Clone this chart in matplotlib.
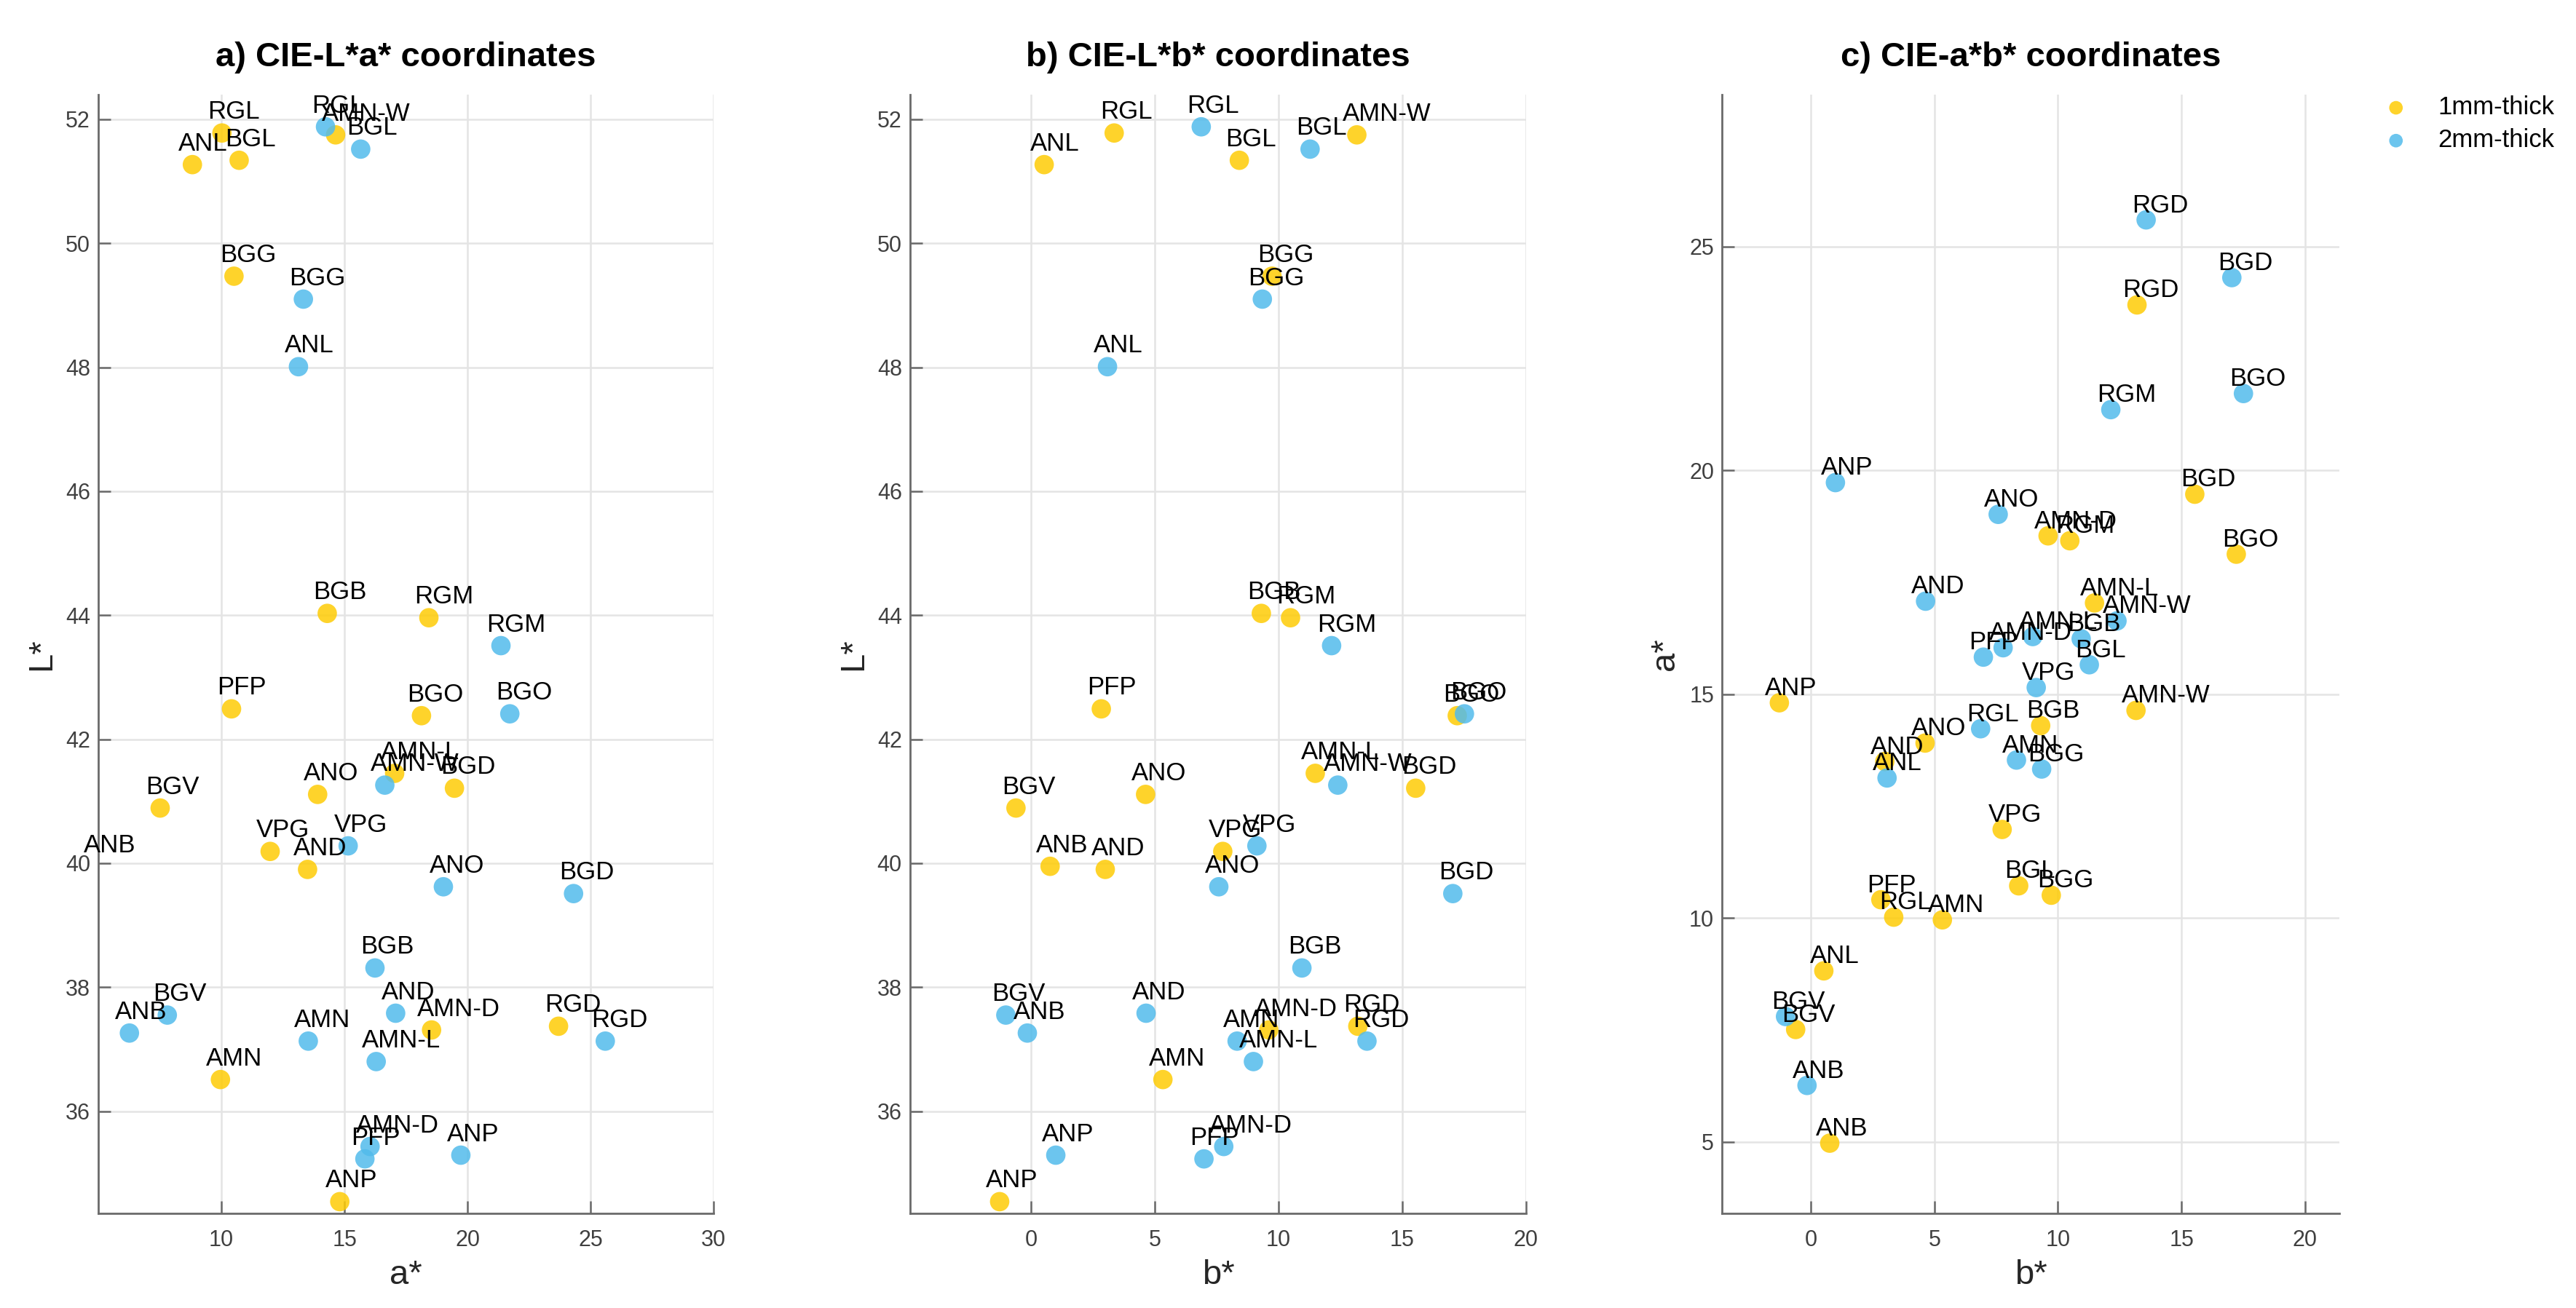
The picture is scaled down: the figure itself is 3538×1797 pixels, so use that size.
import numpy as np
import matplotlib
matplotlib.use("Agg")
import matplotlib.pyplot as plt

plt.rcParams['font.family'] = ['Liberation Sans', 'DejaVu Sans']

# ---------------- data ----------------
samples = ["ANL", "RGL", "BGL", "AMN-W", "BGG", "BGB", "RGM", "PFP", "BGO", "AMN-L",
           "BGD", "ANO", "BGV", "ANB", "VPG", "AND", "RGD", "AMN", "AMN-D", "ANP"]

# 1 mm thick
L_1mm = [51.27, 51.78, 51.34, 51.75, 49.47, 44.03, 43.96, 42.49, 42.38, 41.45,
         41.21, 41.11, 40.89, 39.95, 40.19, 39.90, 37.37, 36.51, 37.31, 34.54]
a_1mm = [8.82, 10.02, 10.72, 14.64, 10.51, 14.30, 18.43, 10.41, 18.13, 17.04,
         19.47, 13.91, 7.51, 4.97, 11.98, 13.50, 23.70, 9.96, 18.54, 14.81]
b_1mm = [0.52, 3.35, 8.41, 13.16, 9.73, 9.30, 10.48, 2.83, 17.22, 11.48,
         15.54, 4.62, -0.62, 0.76, 7.74, 2.99, 13.20, 5.32, 9.60, -1.28]

# 2 mm thick
L_2mm = [48.01, 51.88, 51.52, 41.26, 49.10, 38.31, 43.51, 35.23, 42.41, 36.80,
         39.51, 39.62, 37.55, 37.26, 40.28, 37.58, 37.13, 37.13, 35.43, 35.29]
a_2mm = [13.13, 14.23, 15.66, 16.64, 13.33, 16.24, 21.36, 15.83, 21.72, 16.29,
         24.31, 19.02, 7.80, 6.26, 15.15, 17.08, 25.60, 13.53, 16.04, 19.73]
b_2mm = [3.08, 6.87, 11.27, 12.39, 9.34, 10.94, 12.14, 6.98, 17.51, 8.98,
         17.04, 7.58, -1.03, -0.16, 9.12, 4.64, 13.57, 8.32, 7.78, 0.99]

series_names = ["1mm-thick", "2mm-thick"]
titles = ["a) CIE-L*a* coordinates", "b) CIE-L*b* coordinates", "c) CIE-a*b* coordinates"]

# ---------------- style ----------------
yellow = (254/255, 204/255, 6/255)
blue = (82/255, 187/255, 235/255)
alpha = 0.85

W, H, DPI = 3538, 1797, 200
fig = plt.figure(figsize=(W / DPI, H / DPI), dpi=DPI)

bottom = 0.0723
height = 0.8554
lefts = [0.0382, 0.3533, 0.6685]
widths = [0.2388, 0.2391, 0.2397]

panels = [
    dict(x1=a_1mm, y1=L_1mm, x2=a_2mm, y2=L_2mm, xlabel="a*", ylabel="L*",
         xlim=(5.0, 30.0), ylim=(34.35, 52.4), xticks=[10, 15, 20, 25, 30],
         yticks=[36, 38, 40, 42, 44, 46, 48, 50, 52], dy=7.0),
    dict(x1=b_1mm, y1=L_1mm, x2=b_2mm, y2=L_2mm, xlabel="b*", ylabel="L*",
         xlim=(-4.9, 20.0), ylim=(34.35, 52.4), xticks=[0, 5, 10, 15, 20],
         yticks=[36, 38, 40, 42, 44, 46, 48, 50, 52], dy=7.0),
    dict(x1=b_1mm, y1=a_1mm, x2=b_2mm, y2=a_2mm, xlabel="b*", ylabel="a*",
         xlim=(-3.6, 21.4), ylim=(3.4, 28.4), xticks=[0, 5, 10, 15, 20],
         yticks=[5, 10, 15, 20, 25], dy=3.8),
]

axes = []
for i, p in enumerate(panels):
    ax = fig.add_axes([lefts[i], bottom, widths[i], height])
    axes.append(ax)
    ax.set_xlim(*p["xlim"])
    ax.set_ylim(*p["ylim"])
    ax.set_xticks(p["xticks"])
    ax.set_yticks(p["yticks"])
    ax.grid(True, color="#e4e4e4", linewidth=0.9, zorder=0)
    ax.set_axisbelow(True)
    for s in ["top", "right"]:
        ax.spines[s].set_visible(False)
    for s in ["left", "bottom"]:
        ax.spines[s].set_color("#6a6a6a")
        ax.spines[s].set_linewidth(1.0)
    ax.tick_params(axis="both", direction="in", length=6, width=0.9, color="#6a6a6a",
                   labelsize=11, labelcolor="#404040")
    ax.tick_params(axis="x", pad=8)
    ax.tick_params(axis="y", pad=4)
    ax.set_xlabel(p["xlabel"], fontsize=17, color="#262626", labelpad=4)
    ax.set_ylabel(p["ylabel"], fontsize=17, color="#262626", labelpad=4)
    ax.set_title(titles[i], fontsize=17, fontweight="bold", pad=14)

    x0, x1 = p["xlim"]
    y0, y1 = p["ylim"]
    for xs, ys, col, name in [(p["x1"], p["y1"], yellow, series_names[0]),
                              (p["x2"], p["y2"], blue, series_names[1])]:
        xs = np.asarray(xs, float)
        ys = np.asarray(ys, float)
        vis = (xs >= x0) & (xs <= x1) & (ys >= y0) & (ys <= y1)
        ax.scatter(xs[vis], ys[vis], s=92, color=col, alpha=alpha, edgecolors="none",
                   zorder=3, label=name)
        for xv, yv, lab in zip(xs, ys, samples):
            ax.annotate(lab, (xv, yv), xytext=(-7.0, p["dy"]), textcoords="offset points",
                        ha="left", va="baseline", fontsize=12.5, color="black",
                        zorder=5, annotation_clip=False)

leg = axes[2].legend(loc="upper left", bbox_to_anchor=(0.9257, 0.927),
                     bbox_transform=fig.transFigure, frameon=False, fontsize=12.5,
                     markerscale=0.7, handlelength=0.9, handletextpad=1.2,
                     labelspacing=0.35, borderpad=0.0, borderaxespad=0.0)

fig.savefig("out.png", dpi=DPI)
